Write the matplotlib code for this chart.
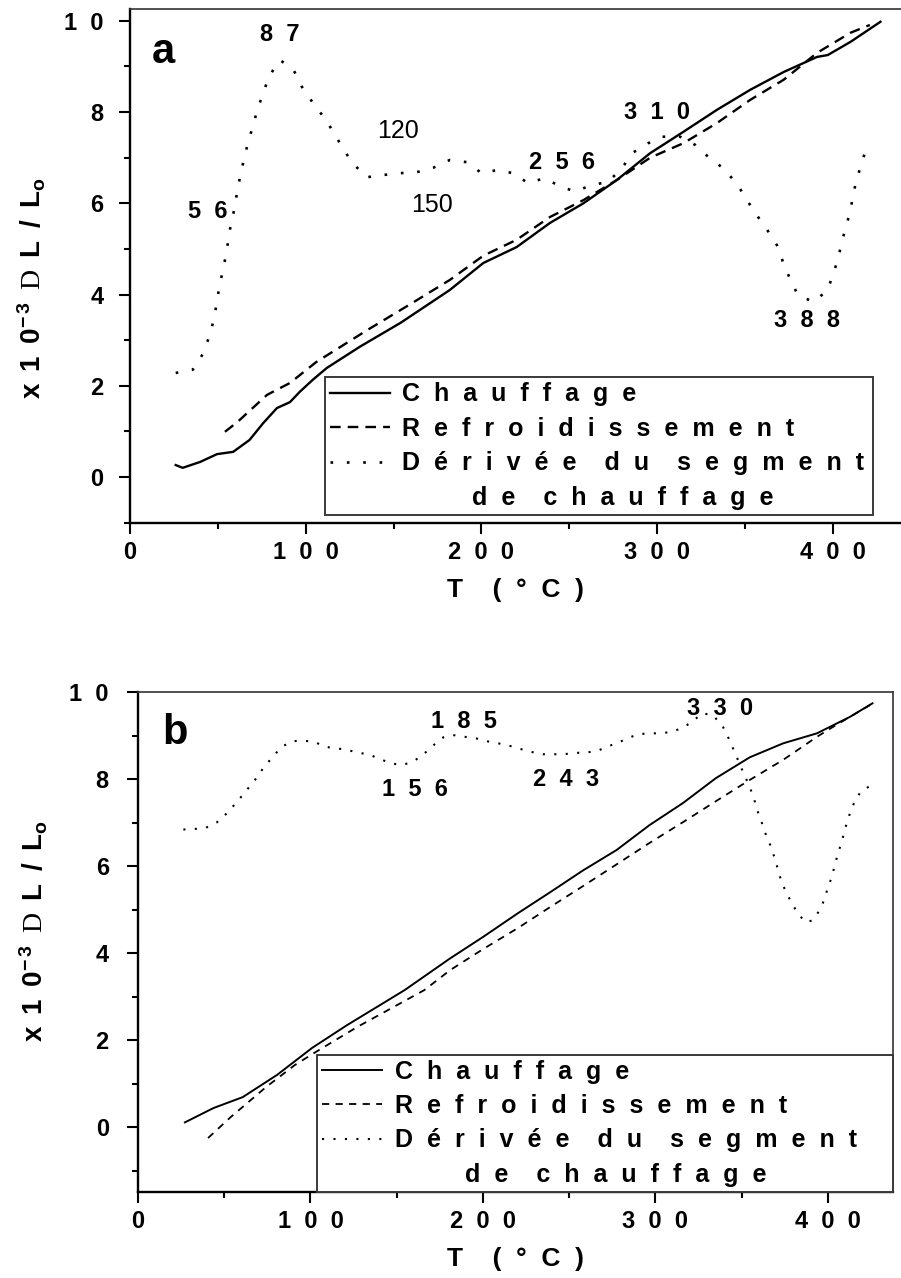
import matplotlib
matplotlib.use("Agg")
import matplotlib.pyplot as plt
from matplotlib.ticker import MultipleLocator

plt.rcParams['font.family'] = ['Liberation Sans', 'DejaVu Sans']
plt.rcParams['font.weight'] = 'bold'
plt.rcParams['axes.labelweight'] = 'bold'
plt.rcParams['mathtext.fontset'] = 'custom'
plt.rcParams['mathtext.rm'] = 'Liberation Serif:normal'
plt.rcParams['mathtext.bf'] = 'Liberation Sans:bold'
plt.rcParams['mathtext.it'] = 'Liberation Sans:italic'
plt.rcParams['mathtext.sf'] = 'Liberation Sans'

# ------------------------
# Panel a data (T in °C, dL/L0 in 1e-3)
# ------------------------
heat_a_T = [26, 30, 40, 49.5, 58.7, 68, 75.8, 83.6, 91, 96.7, 104, 112, 131, 154,
            182, 201, 220, 239, 258, 277, 296, 315, 334, 353, 372, 391, 397, 410, 427]
heat_a_v = [0.26, 0.2, 0.33, 0.5, 0.55, 0.81, 1.18, 1.51, 1.64, 1.87, 2.13, 2.39, 2.86, 3.38,
            4.1, 4.69, 5.04, 5.57, 6.0, 6.51, 7.1, 7.57, 8.05, 8.49, 8.88, 9.21, 9.25, 9.54, 9.98]

cool_a_T = [54, 61, 78, 91, 106, 135, 160, 182, 201, 220, 239, 258, 277, 296, 315,
            334, 353, 372, 391, 410, 421]
cool_a_v = [0.99, 1.2, 1.8, 2.06, 2.52, 3.22, 3.8, 4.32, 4.85, 5.2, 5.7, 6.07, 6.51, 7.0, 7.32,
            7.76, 8.27, 8.71, 9.3, 9.74, 9.91]

deriv_a_T = [26, 35.7, 41.7, 45, 47.5, 49.3, 50.8, 52.7, 54.5, 56, 57.5, 59.8, 61, 63, 65,
             67.3, 70, 72.6, 75.9, 79, 85.4, 93, 97.7, 103.4, 110, 115.7, 121, 126.7, 134.6,
             144, 153.6, 163, 172.6, 182, 192, 200, 209, 218, 226.6, 235.6, 245, 253, 263,
             272, 280, 285.7, 295, 303, 313, 321.6, 329, 337.5, 345.5, 351, 357, 363, 368.8,
             371.7, 375.6, 380, 388.7, 396.7, 400, 403, 405, 407.5, 410, 411.6, 414, 416.6, 420]
deriv_a_v = [2.28, 2.35, 2.71, 3.07, 3.42, 3.8, 4.17, 4.5, 4.85, 5.2, 5.58, 5.93, 6.28, 6.64, 7.0,
             7.35, 7.7, 8.07, 8.42, 8.78, 9.14, 8.93, 8.56, 8.24, 7.9, 7.57, 7.21, 6.88, 6.57,
             6.62, 6.66, 6.68, 6.78, 6.95, 6.9, 6.66, 6.73, 6.66, 6.44, 6.55, 6.37, 6.26, 6.4,
             6.47, 6.77, 7.1, 7.32, 7.46, 7.46, 7.28, 7.02, 6.77, 6.42, 6.07, 5.72, 5.39, 5.04,
             4.69, 4.34, 3.99, 3.84, 4.08, 4.43, 4.8, 5.15, 5.5, 5.85, 6.23, 6.58, 6.93, 7.3]

peaks_a_text = ["56", "87", "256", "310", "388"]
peaks_a_T = [44.4, 85.3, 245.8, 299.9, 385.2]
peaks_a_v = [5.81, 9.71, 6.89, 8.0, 3.44]
plain_a_text = ["120", "150"]
plain_a_T = [152.5, 171.8]
plain_a_v = [7.59, 5.96]

# ------------------------
# Panel b data
# ------------------------
heat_b_T = [27.2, 43.8, 60.7, 80.6, 100.9, 121, 154.6, 181, 200, 220, 239, 258, 277.5,
            296.5, 316, 335, 354.7, 374, 393.6, 412.8, 425.8]
heat_b_v = [0.11, 0.44, 0.69, 1.2, 1.82, 2.34, 3.15, 3.88, 4.37, 4.91, 5.4, 5.9, 6.37,
            6.94, 7.45, 8.02, 8.5, 8.82, 9.05, 9.43, 9.74]

cool_b_T = [40.6, 53.7, 74.2, 91, 104, 127, 166, 181, 200, 220, 239, 258, 277.5, 296.5,
            316, 335, 354.7, 374, 384, 393.6, 403, 412.8, 424.4]
cool_b_v = [-0.25, 0.23, 0.92, 1.43, 1.75, 2.3, 3.15, 3.61, 4.09, 4.57, 5.06, 5.54, 6.04, 6.53,
            7.01, 7.49, 7.98, 8.44, 8.71, 8.97, 9.2, 9.43, 9.7]

deriv_b_T = [26.3, 31.8, 38.8, 45.6, 51.7, 57.3, 63.1, 68.2, 72.6, 77.9, 83.3, 89.4, 95.5,
             102, 108.4, 114.4, 121, 127.3, 134.1, 140.3, 146, 152.2, 158.7, 165, 171.1,
             177.1, 182.7, 189.6, 196.4, 202, 208.9, 215.7, 221.8, 228.4, 234.8, 240.7,
             246.7, 253.4, 259.6, 266.1, 271.6, 277.5, 283.5, 289.9, 296.5, 302.4, 309,
             315.4, 321.1, 327, 333.3, 339.1, 342, 344.9, 347.8, 350.8, 353.7, 356.5, 359.4,
             361.7, 364.1, 367, 369.1, 371.1, 373, 376, 379, 382, 386.7, 391, 395.3, 398.2,
             400, 402.3, 403.9, 405.9, 407.9, 410.9, 412.8, 415.8, 419.8, 425.8]
deriv_b_v = [6.84, 6.85, 6.87, 7.0, 7.22, 7.47, 7.75, 8.0, 8.25, 8.5, 8.74, 8.87, 8.88,
             8.86, 8.74, 8.71, 8.67, 8.61, 8.56, 8.46, 8.37, 8.32, 8.38, 8.55, 8.77,
             8.96, 9.01, 8.97, 8.93, 8.87, 8.82, 8.76, 8.69, 8.62, 8.57, 8.57,
             8.57, 8.6, 8.61, 8.64, 8.74, 8.82, 8.93, 9.03, 9.05, 9.05, 9.08,
             9.17, 9.31, 9.51, 9.47, 9.2, 8.97, 8.71, 8.44, 8.16, 7.9, 7.63, 7.24,
             6.99, 6.71, 6.44, 6.18, 5.91, 5.64, 5.38, 5.15, 4.95, 4.71, 4.75, 4.99, 5.26,
             5.52, 5.75, 6.02, 6.3, 6.55, 6.99, 7.22, 7.52, 7.75, 7.86]

peaks_b_text = ["185", "156", "243", "330"]
peaks_b_T = [189, 160.6, 248, 337.4]
peaks_b_v = [9.33, 7.75, 7.98, 9.63]

x_ticks = [0, 100, 200, 300, 400]
y_ticks = [0, 2, 4, 6, 8, 10]
labels = ["Chauffage", "Refroidissement", "Dérivée du segment", "de chauffage"]


def spread(s, gap="  "):
    # the original figure has very wide letter spacing
    return (gap * 2).join(gap.join(w) for w in s.split(" "))


ylab = (r"$\mathbf{x}\enspace\mathbf{1}\enspace\mathbf{0}^{\mathbf{-}\,\mathbf{3}}"
        r"\enspace\mathrm{D}\enspace\mathbf{L}\enspace\mathbf{/}\enspace\mathbf{L}_{\mathbf{o}}$")

fig = plt.figure(figsize=(9.01, 12.78), dpi=100)
W, H = 901, 1278
ax_a = fig.add_axes([130 / W, 1 - 523 / H, 771 / W, 514 / H])
ax_b = fig.add_axes([138 / W, 1 - 1192 / H, 755 / W, 500 / H])


def setup(ax, xmax, ylim, ypad, ylab_x, ylab_y):
    ax.set_xlim(0, xmax)
    ax.set_ylim(*ylim)
    ax.set_xticks(x_ticks, [spread(str(v)) for v in x_ticks])
    ax.set_yticks(y_ticks, [spread(str(v)) for v in y_ticks])
    ax.xaxis.set_minor_locator(MultipleLocator(50))
    ax.yaxis.set_minor_locator(MultipleLocator(1))
    ax.tick_params(which='major', direction='out', length=8, width=1.5, labelsize=17)
    ax.tick_params(which='minor', direction='out', length=4, width=1.5)
    ax.tick_params(axis='y', which='major', pad=ypad)
    ax.tick_params(axis='x', which='major', pad=5)
    for side in ['left', 'bottom']:
        ax.spines[side].set_linewidth(1.7)
    for side in ['top', 'right']:
        ax.spines[side].set_linewidth(1.2)
        ax.spines[side].set_color('#333333')
    ax.set_xlabel(spread("T (°C)"), fontsize=19, labelpad=10)
    ax.set_ylabel(ylab, fontsize=20)
    ax.yaxis.set_label_coords(ylab_x, ylab_y)


def add_legend(ax, x0, y0, w):
    leg = ax.legend(loc='lower left', bbox_to_anchor=(x0, y0, w, 0.3),
                    mode='expand', borderaxespad=0, borderpad=0.2, handlelength=2.4,
                    handletextpad=0.5, labelspacing=0.42, fontsize=18, fancybox=False,
                    edgecolor='#3a3a3a', framealpha=1)
    leg.get_frame().set_linewidth(1.4)
    return leg


# ------------------------
# Panel a
# ------------------------
setup(ax_a, 438.7, (-1.01, 10.26), 11, -0.106, 0.457)
ax_a.spines['right'].set_visible(False)
ax_a.plot(heat_a_T, heat_a_v, color='black', lw=1.7, label=spread(labels[0]))
ax_a.plot(cool_a_T, cool_a_v, color='black', lw=1.7, dashes=(4.5, 3), label=spread(labels[1]))
ax_a.plot(deriv_a_T, deriv_a_v, color='black', lw=1.9, dashes=(1, 5.2),
          dash_capstyle='butt', label=spread(labels[2]))
ax_a.plot([], [], color='none', label=" " * 10 + spread(labels[3]))
for t, x, y in zip(peaks_a_text, peaks_a_T, peaks_a_v):
    ax_a.text(x, y, spread(t), ha='center', va='center', fontsize=17)
for t, x, y in zip(plain_a_text, plain_a_T, plain_a_v):
    ax_a.text(x, y, t, ha='center', va='center', fontsize=18, fontweight='normal')
ax_a.text(18.8, 9.32, "a", ha='center', va='center', fontsize=30)
add_legend(ax_a, 0.2529, 0.0156, 0.7108)

# ------------------------
# Panel b
# ------------------------
setup(ax_b, 437.7, (-1.49, 10.0), 13, -0.117, 0.522)
ax_b.plot(heat_b_T, heat_b_v, color='black', lw=1.4, label=spread(labels[0]))
ax_b.plot(cool_b_T, cool_b_v, color='black', lw=1.3, dashes=(4, 3.5), label=spread(labels[1]))
ax_b.plot(deriv_b_T, deriv_b_v, color='black', lw=1.5, dashes=(1, 4.5),
          dash_capstyle='butt', label=spread(labels[2]))
ax_b.plot([], [], color='none', label=" " * 10 + spread(labels[3]))
for t, x, y in zip(peaks_b_text, peaks_b_T, peaks_b_v):
    ax_b.text(x, y, spread(t), ha='center', va='center', fontsize=17)
ax_b.text(21.4, 9.06, "b", ha='center', va='center', fontsize=30)
add_legend(ax_b, 0.2371, 0.0, 0.7629)

fig.savefig("out.png", dpi=100)
